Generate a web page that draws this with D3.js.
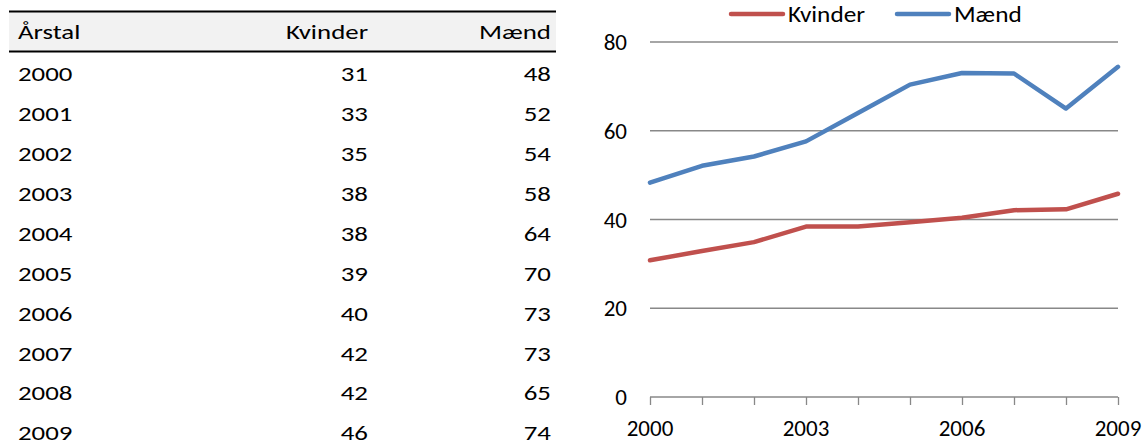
<!DOCTYPE html>
<html>
<head>
<meta charset="utf-8">
<script src="https://cdn.jsdelivr.net/npm/d3@7"></script>
<style>
  html, body { margin: 0; padding: 0; background: #fff; }
  svg { display: block; font-family: Carlito, Calibri, Lato, sans-serif; }
</style>
</head>
<body>
<svg id="chart" width="1143" height="448"></svg>
<script>
// Data
const years = [2000, 2001, 2002, 2003, 2004, 2005, 2006, 2007, 2008, 2009];
const kvinder = [30.8, 32.9, 34.9, 38.4, 38.4, 39.4, 40.4, 42.1, 42.3, 45.8];
const maend   = [48.3, 52.1, 54.2, 57.6, 64.0, 70.4, 73.0, 72.9, 65.0, 74.4];
const columnHeaders = ["Årstal", "Kvinder", "Mænd"];
const seriesNames = ["Kvinder", "Mænd"];
const yTicks = [0, 20, 40, 60, 80];
const xTickLabels = [2000, 2003, 2006, 2009];

const colors = { Kvinder: "#C0504D", "Mænd": "#4F81BD" };
const svg = d3.select("#chart");
const fmt = d3.format(".0f");

// text styles: font size and horizontal glyph stretch per text group
const tableText  = { size: 21, sx: 1.28 };
const legendText = { size: 22, sx: 1.15 };
const axisText   = { size: 23, sx: 1.0 };

// place a text label at (x, y) using a given text style
function placeText(sel, fx, fy, style) {
  sel.attr("transform", (d, i) => `translate(${fx(d, i)},${fy(d, i)}) scale(${style.sx},1)`)
     .attr("dy", "0.35em")
     .attr("font-size", style.size)
     .attr("fill", "#000");
}

// ---------- Table ----------
const table = svg.append("g");
const tLeft = 9, tRight = 556;
const colX = [18, 368, 551];
const colAnchor = ["start", "end", "end"];

table.append("rect")
  .attr("x", tLeft).attr("y", 12)
  .attr("width", tRight - tLeft).attr("height", 39)
  .attr("fill", "#f2f2f2");
table.append("line")
  .attr("x1", tLeft).attr("x2", tRight).attr("y1", 11.5).attr("y2", 11.5)
  .attr("stroke", "#000").attr("stroke-width", 2);
table.append("line")
  .attr("x1", tLeft).attr("x2", tRight).attr("y1", 51.5).attr("y2", 51.5)
  .attr("stroke", "#000").attr("stroke-width", 2);

table.selectAll("text.head")
  .data(columnHeaders)
  .join("text")
  .attr("class", "head")
  .attr("text-anchor", (d, i) => colAnchor[i])
  .call(placeText, (d, i) => colX[i], () => 32, tableText)
  .text(d => d);

const rowY = d3.scaleLinear().domain([0, 9]).range([74, 433]);
const rows = table.selectAll("g.row")
  .data(years.map((y, i) => [String(y), fmt(kvinder[i]), fmt(maend[i])]))
  .join("g")
  .attr("class", "row")
  .attr("transform", (d, i) => `translate(0,${rowY(i)})`);
rows.selectAll("text")
  .data(d => d)
  .join("text")
  .attr("text-anchor", (d, i) => colAnchor[i])
  .call(placeText, (d, i) => colX[i], () => 0, tableText)
  .text(d => d);

// ---------- Line chart ----------
const x = d3.scaleLinear().domain([2000, 2009]).range([650, 1118]);
const y = d3.scaleLinear().domain([0, 80]).range([397, 42]);
const gridColor = "#888888";

const chart = svg.append("g");

// horizontal gridlines
chart.selectAll("line.grid")
  .data(yTicks.filter(t => t > 0))
  .join("line")
  .attr("class", "grid")
  .attr("x1", x(2000)).attr("x2", x(2009))
  .attr("y1", d => y(d)).attr("y2", d => y(d))
  .attr("stroke", gridColor).attr("stroke-width", 1.3);

// y tick labels
chart.selectAll("text.ylab")
  .data(yTicks)
  .join("text")
  .attr("class", "ylab")
  .attr("text-anchor", "end")
  .call(placeText, () => 627, d => y(d), axisText)
  .text(d => d);

// x axis
const xAxis = d3.axisBottom(x)
  .tickValues(years)
  .tickSize(8)
  .tickFormat("");
const axisG = chart.append("g")
  .attr("transform", `translate(0,${y(0)})`)
  .call(xAxis);
axisG.select(".domain").attr("stroke", gridColor).attr("stroke-width", 1.3)
  .attr("d", `M${x(2000)},0H${x(2009)}`);
axisG.selectAll(".tick line").attr("stroke", gridColor).attr("stroke-width", 1.3);

chart.selectAll("text.xlab")
  .data(xTickLabels)
  .join("text")
  .attr("class", "xlab")
  .attr("text-anchor", "middle")
  .call(placeText, d => x(d), () => 428, axisText)
  .text(d => d);

// series lines
const line = d3.line()
  .x(d => x(d[0]))
  .y(d => y(d[1]));
const series = [
  { name: "Kvinder", values: years.map((yr, i) => [yr, kvinder[i]]) },
  { name: "Mænd", values: years.map((yr, i) => [yr, maend[i]]) }
];
chart.selectAll("path.series")
  .data(series)
  .join("path")
  .attr("class", "series")
  .attr("d", d => line(d.values))
  .attr("fill", "none")
  .attr("stroke", d => colors[d.name])
  .attr("stroke-width", 4.5)
  .attr("stroke-linejoin", "round")
  .attr("stroke-linecap", "round");

// legend
const legendX = [731, 897];
const legend = chart.selectAll("g.legend")
  .data(seriesNames)
  .join("g")
  .attr("class", "legend")
  .attr("transform", (d, i) => `translate(${legendX[i]},14)`);
legend.append("line")
  .attr("x1", 0).attr("x2", 52)
  .attr("stroke", d => colors[d])
  .attr("stroke-width", 4.5)
  .attr("stroke-linecap", "round");
legend.append("text")
  .call(placeText, () => 57, () => 0, legendText)
  .text(d => d);
</script>
</body>
</html>
